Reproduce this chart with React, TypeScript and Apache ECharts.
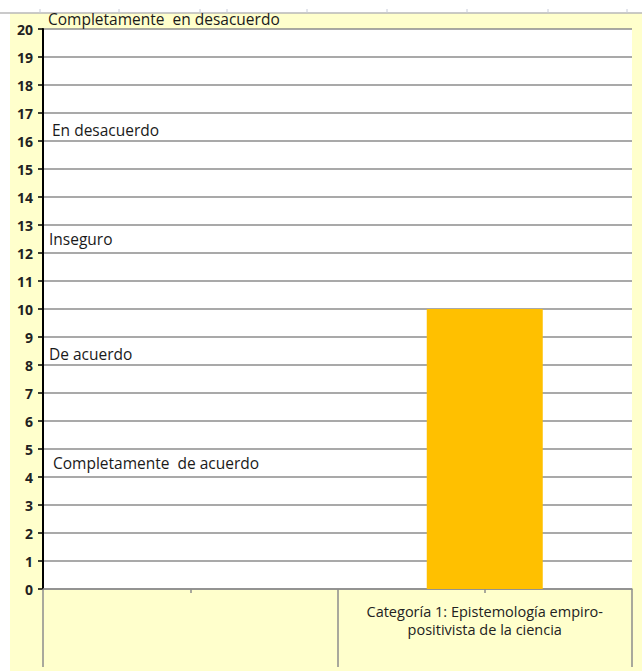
import React, { useEffect, useRef } from "react";
import * as echarts from "echarts";

const categories = ["", "Categoría 1: Epistemología empiro-\npositivista de la ciencia"];
const values: (number | string)[] = ["-", 10];
const yTicks = { min: 0, max: 20, interval: 1 };
const scaleLabels = [
  { text: "Completamente  en desacuerdo", left: 48, top: 11 },
  { text: "En desacuerdo", left: 52, top: 122 },
  { text: "Inseguro", left: 49, top: 231 },
  { text: "De acuerdo", left: 49, top: 346 },
  { text: "Completamente  de acuerdo", left: 53, top: 455 },
];
const topTickXs = [40, 119, 200, 227, 307, 387, 467, 548, 627];

const FONT = "'Open Sans', Lato, sans-serif";

export default function App() {
  const ref = useRef<HTMLDivElement>(null);
  useEffect(() => {
    document.body.style.margin = "0";
    const chart = echarts.init(ref.current!, null, { renderer: "svg" });
    const graphics: any[] = [
      { type: "rect", z: -10, silent: true, shape: { x: 10, y: 13, width: 632, height: 658 }, style: { fill: "#FFFFCC" } },
      { type: "line", z: -9, silent: true, shape: { x1: 0, y1: 13, x2: 642, y2: 13 }, style: { stroke: "#B8B8B8", lineWidth: 1.5 } },
      ...topTickXs.map((x) => ({
        type: "line", z: -9, silent: true, shape: { x1: x, y1: 9, x2: x, y2: 13 }, style: { stroke: "#C8CCD8", lineWidth: 1 },
      })),
      ...scaleLabels.map((l) => ({
        type: "text", z: 100, left: l.left, top: l.top,
        style: { text: l.text, fontSize: 15.5, fontFamily: FONT, fill: "#1a1a1a" },
      })),
    ];
    chart.setOption({
      animation: false,
      backgroundColor: "#ffffff",
      graphic: graphics,
      grid: { left: 43, top: 29, width: 589, height: 560, show: true, backgroundColor: "#ffffff", borderWidth: 0, containLabel: false },
      xAxis: [
        {
          type: "category",
          data: categories,
          position: "bottom",
          axisLine: { show: true, lineStyle: { color: "#8c8c8c", width: 1.5 } },
          axisTick: { show: true, length: 78, interval: 0, lineStyle: { color: "#8c8c8c", width: 1.5 } },
          axisLabel: { interval: 0, margin: 13, fontSize: 14.5, lineHeight: 18, color: "#222", fontFamily: FONT },
          splitLine: { show: false },
        },
        {
          type: "category",
          data: categories,
          position: "bottom",
          axisLine: { show: false },
          axisTick: { show: true, alignWithLabel: true, length: 4, lineStyle: { color: "#8c8c8c", width: 1.5 } },
          axisLabel: { show: false },
          splitLine: { show: false },
        },
      ],
      yAxis: {
        type: "value",
        min: yTicks.min,
        max: yTicks.max,
        interval: yTicks.interval,
        axisLine: { show: true, lineStyle: { color: "#000", width: 2 } },
        axisTick: { show: true, length: 5, lineStyle: { color: "#000", width: 1.5 } },
        axisLabel: { margin: 10, fontSize: 14, fontWeight: "bold", color: "#222", fontFamily: FONT },
        splitLine: { show: true, lineStyle: { color: "#8c8c8c", width: 1.5 } },
      },
      series: [
        {
          type: "bar",
          xAxisIndex: 0,
          data: values,
          barWidth: 116,
          itemStyle: { color: "#FFC000" },
        },
      ],
    });
    return () => chart.dispose();
  }, []);
  return <div ref={ref} style={{ position: "fixed", left: 0, top: 0, width: 642, height: 671 }} />;
}
